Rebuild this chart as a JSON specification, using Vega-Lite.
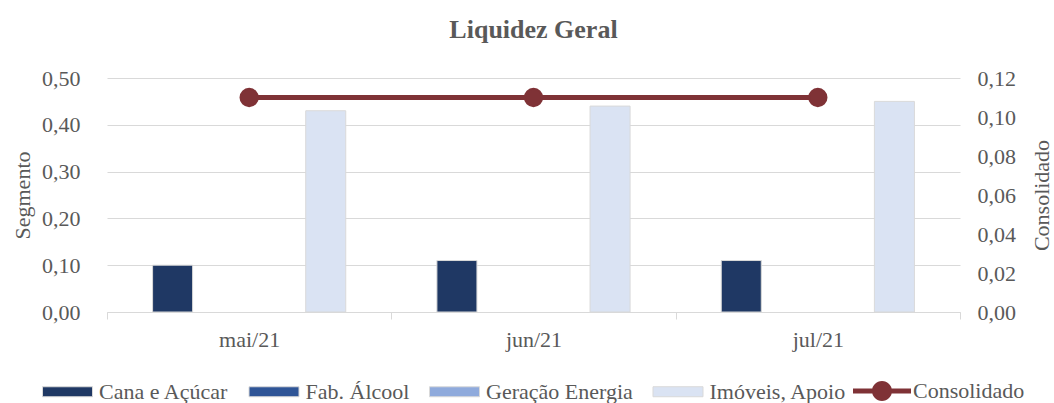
{
  "$schema": "https://vega.github.io/schema/vega-lite/v6.json",
  "width": 853,
  "height": 234,
  "autosize": {"type": "none"},
  "padding": {"left": 107, "top": 78, "right": 94, "bottom": 91},
  "background": "white",
  "title": {"text": "Liquidez Geral", "font": "Liberation Serif", "fontSize": 26, "fontWeight": "bold", "color": "#595959", "offset": 24, "anchor": "middle"},
  "config": {
    "view": {"stroke": null},
    "font": "Liberation Serif",
    "axis": {"labelFont": "Liberation Serif", "titleFont": "Liberation Serif", "labelColor": "#595959", "titleColor": "#595959", "labelFontSize": 22, "titleFontSize": 22, "titleFontWeight": "normal"},
    "legend": {"labelFont": "Liberation Serif", "labelFontSize": 22, "labelColor": "#595959", "labelLimit": 300}
  },
  "data": {
    "values": [
      {"mes": "mai/21", "serie": "Cana e Açúcar", "valor": 0.10},
      {"mes": "mai/21", "serie": "Fab. Álcool", "valor": 0},
      {"mes": "mai/21", "serie": "Geração Energia", "valor": 0},
      {"mes": "mai/21", "serie": "Imóveis, Apoio", "valor": 0.43},
      {"mes": "mai/21", "serie": "Consolidado", "valor": 0.11},
      {"mes": "jun/21", "serie": "Cana e Açúcar", "valor": 0.11},
      {"mes": "jun/21", "serie": "Fab. Álcool", "valor": 0},
      {"mes": "jun/21", "serie": "Geração Energia", "valor": 0},
      {"mes": "jun/21", "serie": "Imóveis, Apoio", "valor": 0.44},
      {"mes": "jun/21", "serie": "Consolidado", "valor": 0.11},
      {"mes": "jul/21", "serie": "Cana e Açúcar", "valor": 0.11},
      {"mes": "jul/21", "serie": "Fab. Álcool", "valor": 0},
      {"mes": "jul/21", "serie": "Geração Energia", "valor": 0},
      {"mes": "jul/21", "serie": "Imóveis, Apoio", "valor": 0.45},
      {"mes": "jul/21", "serie": "Consolidado", "valor": 0.11}
    ]
  },
  "layer": [
    {
      "transform": [{"filter": "datum.serie !== 'Consolidado'"}],
      "mark": {"type": "bar", "stroke": "#d9d9d9", "strokeWidth": 1},
      "encoding": {
        "x": {"field": "mes", "type": "nominal", "sort": ["mai/21", "jun/21", "jul/21"], "scale": {"paddingInner": 0, "paddingOuter": 0},
          "axis": {"title": null, "labelAngle": 0, "labelFont": "Liberation Serif", "tickBand": "extent", "ticks": true, "tickSize": 7, "tickColor": "#d9d9d9", "tickWidth": 1, "domainColor": "#d9d9d9", "domainWidth": 1, "labelPadding": 10, "grid": false}},
        "xOffset": {"field": "serie", "type": "nominal", "sort": ["Cana e Açúcar", "Fab. Álcool", "Geração Energia", "Imóveis, Apoio"], "scale": {"paddingInner": 0.216, "paddingOuter": 0.893}},
        "y": {"field": "valor", "type": "quantitative", "scale": {"domain": [0, 0.5]},
          "axis": {"title": "Segmento", "labelFont": "Liberation Serif", "titleFont": "Liberation Serif", "values": [0, 0.1, 0.2, 0.3, 0.4, 0.5], "labelExpr": "replace(format(datum.value, '.2f'), '.', ',')", "grid": true, "gridColor": "#d9d9d9", "gridWidth": 1, "domain": false, "ticks": false, "labelPadding": 27, "titlePadding": 7}},
        "fill": {"field": "serie", "type": "nominal",
          "scale": {"domain": ["Cana e Açúcar", "Fab. Álcool", "Geração Energia", "Imóveis, Apoio"], "range": ["#1F3864", "#2F5597", "#8FAADC", "#DAE3F3"]},
          "legend": {
            "orient": "none", "legendX": -65, "legendY": 288, "direction": "horizontal", "columns": 4, "title": null,
            "labelFont": "Liberation Serif", "labelFontSize": 22, "labelColor": "#595959",
            "labelOffset": 6, "columnPadding": 17.5,
            "symbolType": "M-1,-0.2H1V0.2H-1Z", "symbolSize": 2500, "symbolStrokeColor": "#d9d9d9", "symbolStrokeWidth": 1, "symbolOpacity": 1
          }},
        "strokeOpacity": {"condition": {"test": "datum.valor === 0", "value": 0}, "value": 1}
      }
    },
    {
      "transform": [{"filter": "datum.serie === 'Consolidado'"}],
      "mark": {"type": "line", "strokeWidth": 5, "point": {"filled": true, "fill": "#7F3236", "size": 300}},
      "encoding": {
        "x": {"field": "mes", "type": "nominal", "sort": ["mai/21", "jun/21", "jul/21"]},
        "y": {"field": "valor", "type": "quantitative", "scale": {"domain": [0, 0.12]},
          "axis": {"orient": "right", "title": "Consolidado", "labelFont": "Liberation Serif", "titleFont": "Liberation Serif", "titleAngle": 270, "titleBaseline": "top", "values": [0, 0.02, 0.04, 0.06, 0.08, 0.1, 0.12], "labelExpr": "replace(format(datum.value, '.2f'), '.', ',')", "grid": false, "domain": false, "ticks": false, "labelPadding": 17, "titlePadding": 16}},
        "stroke": {"field": "serie", "type": "nominal",
          "scale": {"domain": ["Consolidado"], "range": ["#7F3236"]},
          "legend": {
            "orient": "none", "legendX": 746, "legendY": 284, "direction": "horizontal", "title": null,
            "labelFont": "Liberation Serif", "labelFontSize": 22, "labelColor": "#595959",
            "labelOffset": 2,
            "symbolType": "M-1,-0.086H1V0.086H-1Z M0.345,0A0.345,0.345 0 1 1 -0.345,0A0.345,0.345 0 1 1 0.345,0Z",
            "symbolSize": 3364, "symbolFillColor": "#7F3236", "symbolStrokeWidth": 0, "symbolOpacity": 1
          }}
      }
    }
  ],
  "resolve": {"scale": {"y": "independent"}}
}
